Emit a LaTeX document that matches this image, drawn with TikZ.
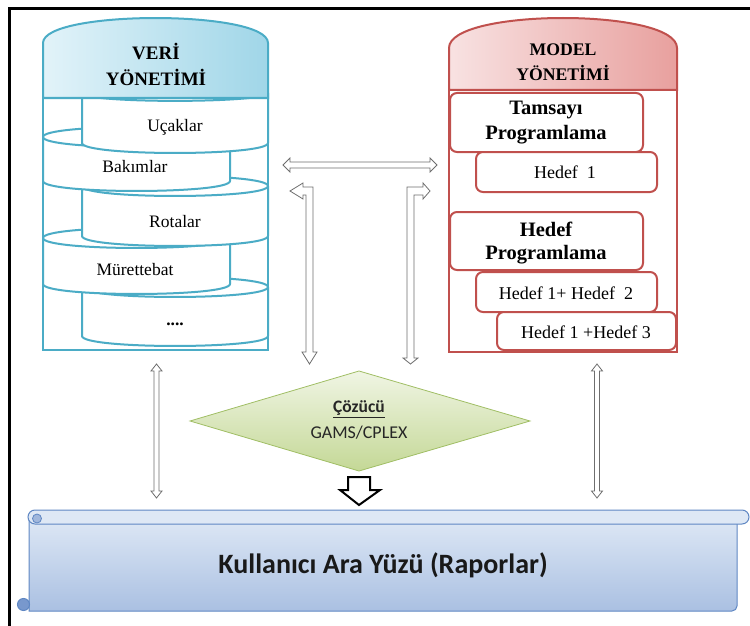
\documentclass[tikz,border=0pt]{standalone}
\usepackage{fontspec}
\setmainfont{Liberation Serif}
\newfontfamily\calibri{Carlito}
\definecolor{vteal}{RGB}{75,172,198}
\definecolor{mred}{RGB}{192,80,77}
\definecolor{capbL}{RGB}{226,243,249}
\definecolor{capbR}{RGB}{160,214,232}
\definecolor{caprL}{RGB}{248,226,226}
\definecolor{caprR}{RGB}{232,160,158}
\definecolor{agray}{RGB}{110,110,110}
\definecolor{dgreenT}{RGB}{240,245,228}
\definecolor{dgreenB}{RGB}{196,216,150}
\definecolor{dgreenD}{RGB}{160,190,100}
\definecolor{banT}{RGB}{222,232,245}
\definecolor{banB}{RGB}{170,192,226}
\definecolor{banD}{RGB}{95,135,195}
\definecolor{curlc}{RGB}{120,152,205}
\tikzset{
  diskbody/.style={fill=white, draw=vteal, line width=2pt, line join=round},
  diskline/.style={draw=vteal, line width=2pt},
  tealline/.style={draw=vteal, line width=2pt},
  redline/.style={draw=mred, line width=2pt},
  mbox/.style={draw=mred, line width=2pt, fill=white, rounded corners=7pt},
  blockarrow/.style={draw=agray, line width=0.8pt, fill=white, line join=miter},
  dlbl/.style={inner sep=0pt, font=\fontsize{17.5}{19}\selectfont},
  mlbl/.style={inner sep=0pt, font=\fontsize{18}{20}\selectfont},
  blbl/.style={inner sep=0pt, font=\fontsize{20.5}{22}\selectfont\bfseries},
}
\begin{document}
\begin{tikzpicture}[x=1pt,y=-1pt]
\useasboundingbox (0,0) rectangle (750,626);
% outer frame
\draw[line width=2.5pt] (9.5,626) -- (9.5,8.5) -- (750,8.5);

% ---------- VERI YONETIMI ----------
\fill[white] (43,98) rectangle (268,350);
% disk 5
\path[diskbody] (82,287) -- (82,336) .. controls (82,349.3) and (268,349.3) .. (268,336) -- (268,287) .. controls (268,273.7) and (82,273.7) .. (82,287) -- cycle;
\draw[diskline] (82,287) .. controls (82,300.3) and (268,300.3) .. (268,287);
% disk 4
\path[diskbody] (43,238) -- (43,284) .. controls (43,297.3) and (230,297.3) .. (230,284) -- (230,238) .. controls (230,224.7) and (43,224.7) .. (43,238) -- cycle;
\draw[diskline] (43,238) .. controls (43,251.3) and (230,251.3) .. (230,238);
% disk 3
\path[diskbody] (82,186) -- (82,236) .. controls (82,249.3) and (268,249.3) .. (268,236) -- (268,186) .. controls (268,172.7) and (82,172.7) .. (82,186) -- cycle;
\draw[diskline] (82,186) .. controls (82,199.3) and (268,199.3) .. (268,186);
% disk 2
\path[diskbody] (43,137) -- (43,181) .. controls (43,194.3) and (230,194.3) .. (230,181) -- (230,137) .. controls (230,123.7) and (43,123.7) .. (43,137) -- cycle;
\draw[diskline] (43,137) .. controls (43,150.3) and (230,150.3) .. (230,137);
% disk 1
\path[diskbody] (82,93) -- (82,143) .. controls (82,156.3) and (268,156.3) .. (268,143) -- (268,93) .. controls (268,79.7) and (82,79.7) .. (82,93) -- cycle;
\draw[diskline] (82,93) .. controls (82,103.5) and (268,103.5) .. (268,93);
% body outline
\draw[tealline] (43,98) rectangle (268,350);
% cap
\path[tealline, left color=capbL, right color=capbR] (43,98) -- (43,43) .. controls (43,9.7) and (268,9.7) .. (268,43) -- (268,98) -- cycle;
\node[inner sep=0pt, font=\fontsize{19}{21}\selectfont\bfseries] (veri1) at (156,52) {VERİ};
\node[inner sep=0pt, font=\fontsize{19}{21}\selectfont\bfseries] (veri2) at (156,77) {YÖNETİMİ};
\node[dlbl] (ucak) at (175,127) {Uçaklar};
\node[dlbl] (bakim) at (135,167) {Bakımlar};
\node[dlbl] (rota) at (175,222) {Rotalar};
\node[dlbl] (muret) at (135,270) {Mürettebat};
\node[dlbl, font=\fontsize{17.5}{19}\selectfont\bfseries] (dots) at (175,324) {....};

% ---------- MODEL YONETIMI ----------
\fill[white] (449,90) rectangle (677,352);
\path[mbox] (450,93) rectangle (643,152);
\path[mbox] (476,152) rectangle (657,192);
\path[mbox] (450,212) rectangle (643,270);
\path[mbox] (476,272) rectangle (657,312);
\path[mbox] (497,312) rectangle (676,350);
\draw[redline] (449,90) rectangle (677,352);
\path[redline, left color=caprL, right color=caprR] (449,90) -- (449,48) .. controls (449,8) and (677,8) .. (677,48) -- (677,90) -- cycle;
\node[inner sep=0pt, font=\fontsize{17.7}{20}\selectfont\bfseries] (model1) at (563,50) {MODEL};
\node[inner sep=0pt, font=\fontsize{17.7}{20}\selectfont\bfseries] (model2) at (563,73) {YÖNETİMİ};
\node[blbl] (tam1) at (546,110) {Tamsayı};
\node[blbl] (tam2) at (546,135) {Programlama};
\node[mlbl] (h1) at (565,172) {Hedef\ \ 1};
\node[blbl] (hp1) at (546,229) {Hedef};
\node[blbl] (hp2) at (546,255) {Programlama};
\node[mlbl] (h12) at (566,293) {Hedef 1+ Hedef\ \ 2};
\node[mlbl] (h13) at (586,332) {Hedef 1 +Hedef 3};

% ---------- arrows ----------
\path[blockarrow] (283,165) -- (290,158) -- (290,162) -- (430,162) -- (430,158) -- (437,165) -- (430,172) -- (430,168) -- (290,168) -- (290,172) -- cycle;
\path[blockarrow] (290,191) -- (303,183) -- (303,187) -- (313,187) -- (313,352) -- (317,352) -- (309.5,364) -- (302,352) -- (306,352) -- (306,195) -- (303,195) -- (303,199) -- cycle;
\path[blockarrow] (430,191) -- (423,183) -- (423,187) -- (407,187) -- (407,358) -- (403,358) -- (410.5,364) -- (418,358) -- (414,358) -- (414,195) -- (423,195) -- (423,199) -- cycle;
\path[blockarrow] (156.5,364) -- (162,371) -- (159,371) -- (159,491) -- (162,491) -- (156.5,498) -- (151,491) -- (154,491) -- (154,371) -- (151,371) -- cycle;
\path[blockarrow] (597,364) -- (602.5,371) -- (599.5,371) -- (599.5,491) -- (602.5,491) -- (597,498) -- (591.5,491) -- (594.5,491) -- (594.5,371) -- (591.5,371) -- cycle;

% ---------- solver ----------
\path[draw=dgreenD, line width=0.8pt, top color=dgreenT, bottom color=dgreenB] (190,421) -- (359,371) -- (530,421) -- (359,471) -- cycle;
\node[inner sep=0pt, font=\calibri\fontsize{17.5}{19}\selectfont\bfseries, text=black!85] (cozucu) at (359,409) {\underline{Çözücü}};
\node[inner sep=0pt, font=\calibri\fontsize{18}{20}\selectfont, text=black!85] (gams) at (359,433) {GAMS/CPLEX};
\path[draw=black, line width=2pt, fill=white, line join=miter] (348,477) -- (370,477) -- (370,490) -- (380,490) -- (359,505) -- (340,490) -- (348,490) -- cycle;

% ---------- banner ----------
\path[draw=banD, line width=1pt, top color=banT, bottom color=banB] (29,517) -- (737,517) [rounded corners=5pt] -- (737,611) [sharp corners] -- (29,611) -- cycle;
\path[draw=banD, line width=1pt, fill=curlc] (23.5,604.5) circle (6);
\path[draw=banD, line width=1pt, fill=banT, rounded corners=7pt] (28,510) rectangle (749,524);
\path[draw=banD, line width=0.8pt, fill=curlc!70] (37,518.5) circle (4.5);
\node[inner sep=0pt, font=\calibri\fontsize{28}{30}\selectfont\bfseries, text=black!90] (ui) at (383,565) {Kullanıcı Ara Yüzü (Raporlar)};
\end{tikzpicture}
\end{document}
